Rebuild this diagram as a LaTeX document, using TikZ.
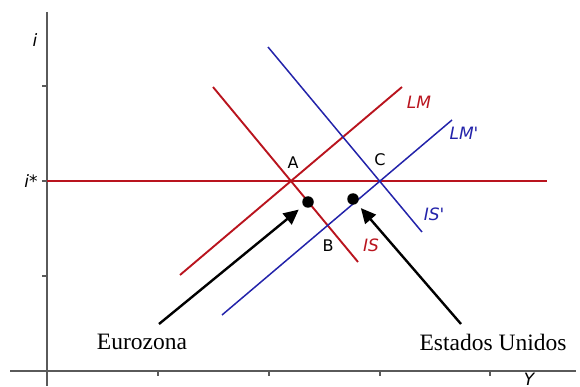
\documentclass[tikz,border=0pt]{standalone}
\usepackage{fontspec}
\setmainfont{Liberation Serif}
\newfontfamily\labfont{DejaVu Sans}
\usepackage{tikz}
\usetikzlibrary{arrows.meta,calc,positioning}

\definecolor{curvered}{RGB}{185,20,30}
\definecolor{curveblue}{RGB}{35,35,170}
\definecolor{axisgray}{RGB}{90,90,90}

\begin{document}
\begin{tikzpicture}[x=1pt,y=-1pt,
  axisline/.style={line width=1.4pt, axisgray},
  redcurve/.style={line width=1.9pt, curvered},
  bluecurve/.style={line width=1.5pt, curveblue},
  pointlab/.style={font=\labfont\fontsize{16}{16}\selectfont, inner sep=1pt},
  curvelab/.style={font=\labfont\itshape\fontsize{17}{17}\selectfont, inner sep=1pt},
  countrylab/.style={font=\fontsize{23.5}{23.5}\selectfont, inner sep=1pt},
  pointer/.style={line width=2.4pt, -{Triangle[length=15pt,width=14pt]}}]
  \useasboundingbox (0,0) rectangle (580,387);

  % Layout positions
  \def\xaxis{47}    % vertical axis
  \def\yaxis{371}   % horizontal axis
  \def\ystar{181}   % i*

  % Axes
  \draw[axisline] (\xaxis,12) -- (\xaxis,386);
  \draw[axisline] (10,\yaxis) -- (576,\yaxis);
  \foreach \ty in {86,181,276}
    \draw[axisline] (\xaxis-5,\ty) -- (\xaxis,\ty);
  \foreach \tx in {158,269,380,490}
    \draw[axisline] (\tx,\yaxis) -- (\tx,\yaxis+5);
  \node[curvelab, black] (ilab) at (35,40) {i};
  \node[curvelab, black] (istar) at (31,181) {i*};
  \node[curvelab, black, inner sep=0pt] (ylab) at (529,379) {Y};

  % Interest parity line
  \draw[redcurve] (\xaxis,\ystar) -- (547,\ystar);

  % Curve end points
  \coordinate (LMs) at (180,275);  \coordinate (LMe) at (402,87);
  \coordinate (ISs) at (213,87);   \coordinate (ISe) at (358,262);
  \coordinate (LMps) at (222,315); \coordinate (LMpe) at (452,120);
  \coordinate (ISps) at (268,47);  \coordinate (ISpe) at (422,232);

  % Curves
  \draw[redcurve] (LMs) -- (LMe);
  \draw[redcurve] (ISs) -- (ISe);
  \draw[bluecurve] (LMps) -- (LMpe);
  \draw[bluecurve] (ISps) -- (ISpe);

  % Curve labels
  \node[curvelab, curvered] (lmlab) at (419,102) {LM};
  \node[curvelab, curveblue] (lmplab) at (464,133) {LM'};
  \node[curvelab, curvered] (islab) at (371,245) {IS};
  \node[curvelab, curveblue] (isplab) at (434,214) {IS'};

  % Equilibria
  \node[pointlab] (A) at (293,163) {A};
  \node[pointlab] (B) at (328,246) {B};
  \node[pointlab] (C) at (380,160) {C};

  % Markers
  \node[circle, fill, inner sep=0pt, minimum size=11.5pt] (euro) at (308,202) {};
  \node[circle, fill, inner sep=0pt, minimum size=11.5pt] (usa) at (353,199) {};

  % Country labels
  \node[countrylab] (eurolab) at (142,342) {Eurozona};
  \node[countrylab] (usalab) at (493,342) {Estados Unidos};

  % Pointers
  \coordinate (eurotail) at (159,324);
  \coordinate (usatail) at (461,324);
  \draw[pointer] (eurotail) -- ($(euro)!12pt!(eurotail)$);
  \draw[pointer] (usatail) -- ($(usa)!12pt!(usatail)$);
\end{tikzpicture}
\end{document}
